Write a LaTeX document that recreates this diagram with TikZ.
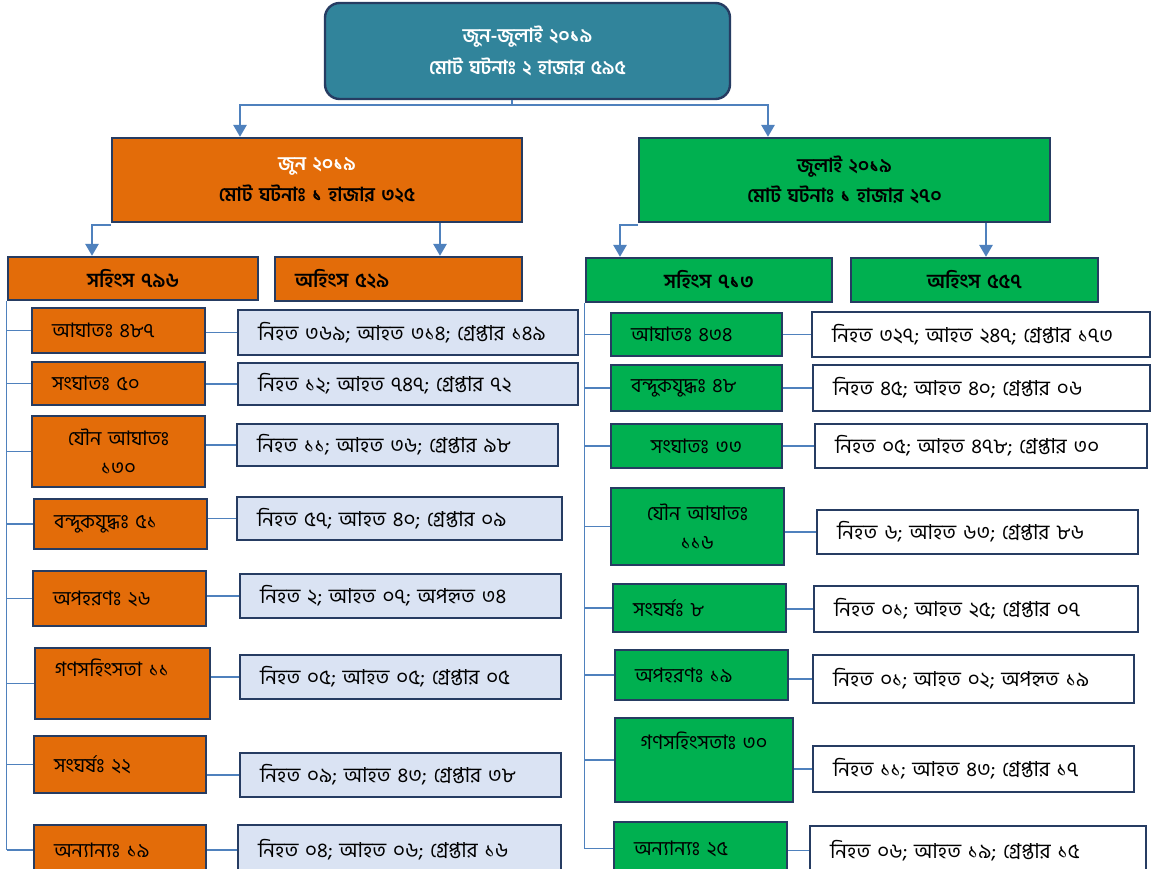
\documentclass[tikz,border=0pt]{standalone}
\usepackage{fontspec}
\usepackage{tikz}
\usetikzlibrary{arrows.meta}
\newfontfamily\bnfont[Script=Bengali]{Hind Siliguri}
\definecolor{TopTeal}{RGB}{49,132,155}
\definecolor{JunOrange}{RGB}{227,108,9}
\definecolor{JulGreen}{RGB}{0,176,80}
\definecolor{EdgeNavy}{RGB}{38,60,98}
\definecolor{DetBlue}{RGB}{218,227,243}
\definecolor{LinkBlue}{RGB}{79,129,189}
\tikzset{
	box/.style={draw=EdgeNavy,line width=1.8pt,inner ysep=2pt,align=left,
		font=\bnfont\fontsize{15}{22}\selectfont},
	bw/.code={\pgfmathsetmacro\boxtw{(#1-40)*0.75}\tikzset{text width=\boxtw pt,inner xsep=15pt}},
	bh/.style={minimum height=#1*0.75pt},
	rootbox/.style={box,fill=TopTeal,rounded corners=11pt,text=white,align=center,
		font=\bnfont\bfseries\fontsize{14.5}{24}\selectfont},
	monthbox/.style={box,fill=#1,align=center,font=\bnfont\bfseries\fontsize{14.5}{23}\selectfont},
	kindbox/.style={box,fill=#1,font=\bnfont\bfseries\fontsize{15}{22}\selectfont},
	catbox/.style={box,fill=#1},
	statbox/.style={box,fill=#1,font=\bnfont\fontsize{15.5}{22}\selectfont},
	link/.style={draw=LinkBlue,line width=1pt},
	feed/.style={draw=LinkBlue,line width=1.5pt,-{Triangle[width=10pt,length=9pt]}},
}
\begin{document}
\begin{tikzpicture}[x=0.75pt,y=-0.75pt]
	\useasboundingbox[fill=white] (0,0) rectangle (1168,868);
	% top and months
	\node[rootbox,bw=405,bh=96] (root) at (527.5,51) {জুন-জুলাই ২০১৯\\মোট ঘটনাঃ ২ হাজার ৫৯৫};
	\node[monthbox=JunOrange,bw=410,bh=84] (jun) at (317,180) {\textcolor{white}{জুন ২০১৯}\\মোট ঘটনাঃ ১ হাজার ৩২৫};
	\node[monthbox=JulGreen,bw=411,bh=84] (jul) at (844.5,180) {জুলাই ২০১৯\\মোট ঘটনাঃ ১ হাজার ২৭০};
	\node[kindbox=JunOrange,bw=250,bh=43,align=center] (junV) at (133,278.5) {সহিংস ৭৯৬};
	\node[kindbox=JunOrange,bw=247,bh=44] (junN) at (398.5,279) {অহিংস ৫২৯};
	\node[kindbox=JulGreen,bw=246,bh=44,align=center] (julV) at (709,280) {সহিংস ৭১৩};
	\node[kindbox=JulGreen,bw=247,bh=44,align=center] (julN) at (974.5,280) {অহিংস ৫৫৭};
	% june
	\node[catbox=JunOrange,bw=173,bh=45] (junC1) at (118.5,330.5) {আঘাতঃ ৪৮৭};
	\node[catbox=JunOrange,bw=173,bh=43] (junC2) at (118.5,383.5) {সংঘাতঃ ৫০};
	\node[catbox=JunOrange,bw=173,bh=71,align=center] (junC3) at (118.5,451.5) {যৌন আঘাতঃ\\১৩০};
	\node[catbox=JunOrange,bw=173,bh=50] (junC4) at (120.5,524) {বন্দুকযুদ্ধঃ ৫১};
	\node[catbox=JunOrange,bw=173,bh=55] (junC5) at (119.5,598.5) {অপহরণঃ ২৬};
	\node[catbox=JunOrange,bw=175,bh=71,text depth=24pt] (junC6) at (122.5,683.5) {গণসহিংসতা ১১};
	\node[catbox=JunOrange,bw=172,bh=57] (junC7) at (120,764.5) {সংঘর্ষঃ ২২};
	\node[catbox=JunOrange,bw=172,bh=50] (junC8) at (120,850) {অন্যান্যঃ ১৯};
	\node[statbox=DetBlue,bw=340,bh=45] (junS1) at (408,332.5) {নিহত ৩৬৯; আহত ৩১৪; গ্রেপ্তার ১৪৯};
	\node[statbox=DetBlue,bw=340,bh=42] (junS2) at (408,384) {নিহত ১২; আহত ৭৪৭; গ্রেপ্তার ৭২};
	\node[statbox=DetBlue,bw=321,bh=42] (junS3) at (397.5,445) {নিহত ১১; আহত ৩৬; গ্রেপ্তার ৯৮};
	\node[statbox=DetBlue,bw=325,bh=43] (junS4) at (399.5,518.5) {নিহত ৫৭; আহত ৪০; গ্রেপ্তার ০৯};
	\node[statbox=DetBlue,bw=321,bh=44] (junS5) at (400.5,596) {নিহত ২; আহত ০৭; অপহৃত ৩৪};
	\node[statbox=DetBlue,bw=321,bh=44] (junS6) at (400.5,677) {নিহত ০৫; আহত ০৫; গ্রেপ্তার ০৫};
	\node[statbox=DetBlue,bw=321,bh=44] (junS7) at (400.5,775) {নিহত ০৯; আহত ৪৩; গ্রেপ্তার ৩৮};
	\node[statbox=DetBlue,bw=323,bh=50] (junS8) at (399.5,850) {নিহত ০৪; আহত ০৬; গ্রেপ্তার ১৬};
	% july
	\node[catbox=JulGreen,bw=171,bh=43] (julC1) at (696.5,334.5) {আঘাতঃ ৪৩৪};
	\node[catbox=JulGreen,bw=171,bh=46] (julC2) at (696.5,388) {বন্দুকযুদ্ধঃ ৪৮};
	\node[catbox=JulGreen,bw=171,bh=44,align=center] (julC3) at (696.5,446) {সংঘাতঃ ৩৩};
	\node[catbox=JulGreen,bw=173,bh=77,align=center] (julC4) at (697.5,526.5) {যৌন আঘাতঃ\\১১৬};
	\node[catbox=JulGreen,bw=173,bh=48] (julC5) at (699.5,608) {সংঘর্ষঃ ৮};
	\node[catbox=JulGreen,bw=173,bh=50] (julC6) at (701.5,675) {অপহরণঃ ১৯};
	\node[catbox=JulGreen,bw=178,bh=84,align=center,text depth=29pt] (julC7) at (704,760) {গণসহিংসতাঃ ৩০};
	\node[catbox=JulGreen,bw=173,bh=53] (julC8) at (700.5,848.5) {অন্যান্যঃ ২৫};
	\node[statbox=white,bw=338,bh=45] (julS1) at (981,334.5) {নিহত ৩২৭; আহত ২৪৭; গ্রেপ্তার ১৭৩};
	\node[statbox=white,bw=337,bh=46] (julS2) at (981.5,388) {নিহত ৪৫; আহত ৪০; গ্রেপ্তার ০৬};
	\node[statbox=white,bw=332,bh=44] (julS3) at (981,446) {নিহত ০৫; আহত ৪৭৮; গ্রেপ্তার ৩০};
	\node[statbox=white,bw=321,bh=44] (julS4) at (977.5,532) {নিহত ৬; আহত ৬৩; গ্রেপ্তার ৮৬};
	\node[statbox=white,bw=324,bh=46] (julS5) at (976,609) {নিহত ০১; আহত ২৫; গ্রেপ্তার ০৭};
	\node[statbox=white,bw=321,bh=48] (julS6) at (973.5,679) {নিহত ০১; আহত ০২; অপহৃত ১৯};
	\node[statbox=white,bw=321,bh=46] (julS7) at (973.5,769) {নিহত ১১; আহত ৪৩; গ্রেপ্তার ১৭};
	\node[statbox=white,bw=336,bh=49] (julS8) at (978,850.5) {নিহত ০৬; আহত ১৯; গ্রেপ্তার ১৫};
	% arrows
	\draw[feed] (root.south -| 512,0) -- ++(0,5) -| (jun.north -| 240,0);
	\draw[feed] (root.south -| 512,0) -- ++(0,5) -| (jul.north -| 768,0);
	\draw[feed] ([yshift=-1.5pt]jun.south west) -| (junV.north -| 92,0);
	\draw[feed] (jun.south -| 440,0) -- (junN.north -| 440,0);
	\draw[feed] ([yshift=-1.5pt]jul.south west) -| (julV.north -| 620,0);
	\draw[feed] (jul.south -| 986,0) -- (julN.north -| 986,0);
	% tree lines
	\draw[link] (junV.south west) -- (junV.south west |- junC8.west);
	\draw[link] (julV.south west) -- (julV.south west |- julC8.west);
	\foreach \n in {1,...,8} {
		\draw[link] (junV.south west |- junC\n.west) -- (junC\n.west);
		\draw[link] (junS\n.west -| junC\n.east) -- (junS\n.west);
		\draw[link] (julV.south west |- julC\n.west) -- (julC\n.west);
		\draw[link] (julS\n.west -| julC\n.east) -- (julS\n.west);
	}
\end{tikzpicture}
\end{document}
